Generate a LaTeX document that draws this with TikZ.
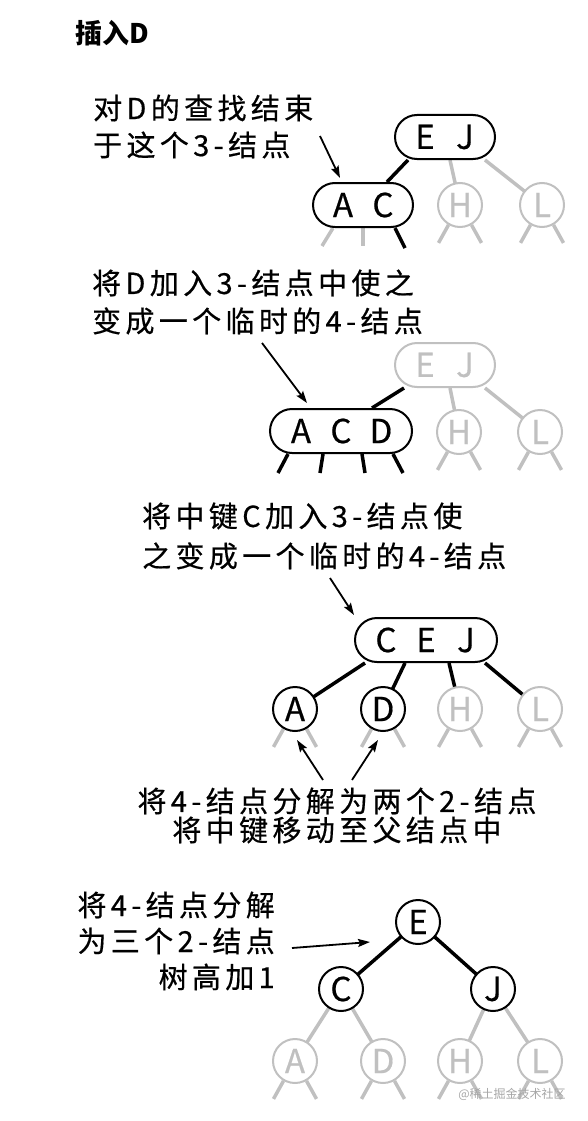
\documentclass[tikz,border=0pt]{standalone}
\usepackage{fontspec}
\setmainfont{Noto Sans CJK SC}
\newfontfamily\capfont[LetterSpace=15,FakeBold=0.5]{Noto Sans CJK SC}
\newfontfamily\keyfont[FakeBold=0.5]{Noto Sans CJK SC}
\usetikzlibrary{arrows.meta,backgrounds}
\definecolor{lg}{RGB}{192,192,192}
\newcommand\leafstubs[2]{\draw[#2] (#1.-120) -- ++(-10,18) (#1.-60) -- ++(10,18);}
\tikzset{
  keybox/.style={draw, line width=2pt, fill=white, rounded corners=22pt, minimum height=44pt, inner sep=0pt, font=\keyfont\fontsize{33}{33}\selectfont},
  keycirc/.style={draw, circle, line width=2pt, fill=white, minimum size=44pt, inner sep=0pt, font=\keyfont\fontsize{33}{33}\selectfont},
  faded/.style={draw=lg, text=lg},
  bl/.style={line width=3.5pt, black},
  gl/.style={line width=3.5pt, lg},
  arr/.style={line width=1.8pt, -{Stealth[length=12pt,width=8pt,inset=2pt]}},
  captext/.style={inner sep=0pt},
}
\newcommand\kk[1]{\makebox[40pt]{#1}}
\begin{document}
\begin{tikzpicture}[x=1pt,y=-1pt]
\useasboundingbox (0,0) rectangle (588,1121);

% title
\node[anchor=west, inner sep=0pt, font=\bfseries\fontsize{27}{27}\selectfont] (title) at (75,33) {插入D};

% ---------- panel 1
\node[captext, anchor=west, align=left, font=\capfont\fontsize{29}{37}\selectfont] (t1) at (93,126.5) {对D的查找结束\\于这个3-结点};
\node[keybox, minimum width=100pt] (EJ1) at (445,137) {\kk{E}\kk{J}};
\node[keybox, minimum width=100pt] (AC1) at (363,205) {\kk{A}\kk{C}};
\node[keycirc, faded] (H1) at (460,205) {H};
\node[keycirc, faded] (L1) at (542,205) {L};
\coordinate (a1s) at (320,136);
\coordinate (a1e) at (340,178);
\draw[arr] (a1s) -- (a1e);

% ---------- panel 2
\node[captext, anchor=west, align=left, font=\capfont\fontsize{29}{38}\selectfont] (t2) at (92,302) {将D加入3-结点中使之\\变成一个临时的4-结点};
\node[keybox, faded, minimum width=100pt] (EJ2) at (445,365) {\kk{E}\kk{J}};
\node[keybox, minimum width=142pt] (ACD2) at (341,431) {\kk{A}\kk{C}\kk{D}};
\node[keycirc, faded] (H2) at (459,432) {H};
\node[keycirc, faded] (L2) at (540,432) {L};
\coordinate (a2s) at (262,343);
\coordinate (a2e) at (307,403);
\draw[arr] (a2s) -- (a2e);

% ---------- panel 3
\node[captext, anchor=west, align=left, font=\capfont\fontsize{29}{40}\selectfont] (t3) at (142,536) {将中键C加入3-结点使\\之变成一个临时的4-结点};
\node[keybox, minimum width=142pt] (CEJ3) at (426,640) {\kk{C}\kk{E}\kk{J}};
\node[keycirc] (A3) at (295,709) {A};
\node[keycirc] (D3) at (383,709) {D};
\node[keycirc, faded] (H3) at (460,709) {H};
\node[keycirc, faded] (L3) at (540,709) {L};
\coordinate (a3s) at (330,578);
\coordinate (a3e) at (354,615);
\draw[arr] (a3s) -- (a3e);
\node[captext, align=center, font=\capfont\fontsize{29}{29}\selectfont] (t4) at (337,815.5) {将4-结点分解为两个2-结点\\将中键移动至父结点中};
\coordinate (a4s) at (323,780);
\coordinate (a4e) at (297,740);
\coordinate (a5s) at (352,780);
\coordinate (a5e) at (378,740);
\draw[arr] (a4s) -- (a4e);
\draw[arr] (a5s) -- (a5e);

% ---------- panel 4
\node[captext, anchor=east, align=right, font=\capfont\fontsize{29}{36}\selectfont] (t5) at (275,941) {将4-结点分解\\为三个2-结点\\树高加1};
\node[keycirc] (E4) at (418,922) {E};
\node[keycirc] (C4) at (341,989) {C};
\node[keycirc] (J4) at (493,989) {J};
\node[keycirc, faded] (A4) at (295,1061) {A};
\node[keycirc, faded] (D4) at (383,1061) {D};
\node[keycirc, faded] (H4) at (460,1061) {H};
\node[keycirc, faded] (L4) at (540,1061) {L};
\coordinate (a6s) at (292,948);
\coordinate (a6e) at (370,942);
\draw[arr] (a6s) -- (a6e);

\node[inner sep=0pt, font=\fontsize{12}{12}\selectfont, text=black!35] (wm) at (512,1094) {@稀土掘金技术社区};

\begin{pgfonlayer}{background}
  % panel 1
  \draw[bl] ([xshift=-37pt]EJ1.south) -- ([xshift=24pt]AC1.north);
  \draw[gl] ([xshift=5pt]EJ1.south) -- (H1.center);
  \draw[gl] ([xshift=40pt]EJ1.south) -- (L1.center);
  \draw[gl] ([xshift=-30pt]AC1.south) -- ++(-11,18);
  \draw[gl] (AC1.south) -- ++(0,18);
  \draw[bl] ([xshift=32pt]AC1.south) -- ++(10,20);
  \leafstubs{H1}{gl}
  \leafstubs{L1}{gl}
  % panel 2
  \draw[bl] ([xshift=-41pt]EJ2.south) -- ([xshift=31pt]ACD2.north);
  \draw[gl] ([xshift=5pt]EJ2.south) -- (H2.center);
  \draw[gl] ([xshift=40pt]EJ2.south) -- (L2.center);
  \draw[bl] ([xshift=-53pt]ACD2.south) -- ++(-10,19);
  \draw[bl] ([xshift=-18pt]ACD2.south) -- ++(-3,19);
  \draw[bl] ([xshift=21pt]ACD2.south) -- ++(3,19);
  \draw[bl] ([xshift=52pt]ACD2.south) -- ++(10,19);
  \leafstubs{H2}{gl}
  \leafstubs{L2}{gl}
  % panel 3
  \draw[bl] ([xshift=-61pt]CEJ3.south) -- (A3.center);
  \draw[bl] ([xshift=-21pt]CEJ3.south) -- (D3.center);
  \draw[bl] ([xshift=23pt]CEJ3.south) -- (H3.center);
  \draw[bl] ([xshift=59pt]CEJ3.south) -- (L3.center);
  \leafstubs{A3}{gl}
  \leafstubs{D3}{gl}
  \leafstubs{H3}{gl}
  \leafstubs{L3}{gl}
  % panel 4
  \draw[bl] (E4.center) -- (C4.center);
  \draw[bl] (E4.center) -- (J4.center);
  \draw[gl] (C4.center) -- (A4.center);
  \draw[gl] (C4.center) -- (D4.center);
  \draw[gl] (J4.center) -- (H4.center);
  \draw[gl] (J4.center) -- (L4.center);
  \leafstubs{A4}{gl}
  \leafstubs{D4}{gl}
  \leafstubs{H4}{gl}
  \leafstubs{L4}{gl}
\end{pgfonlayer}
\end{tikzpicture}
\end{document}
